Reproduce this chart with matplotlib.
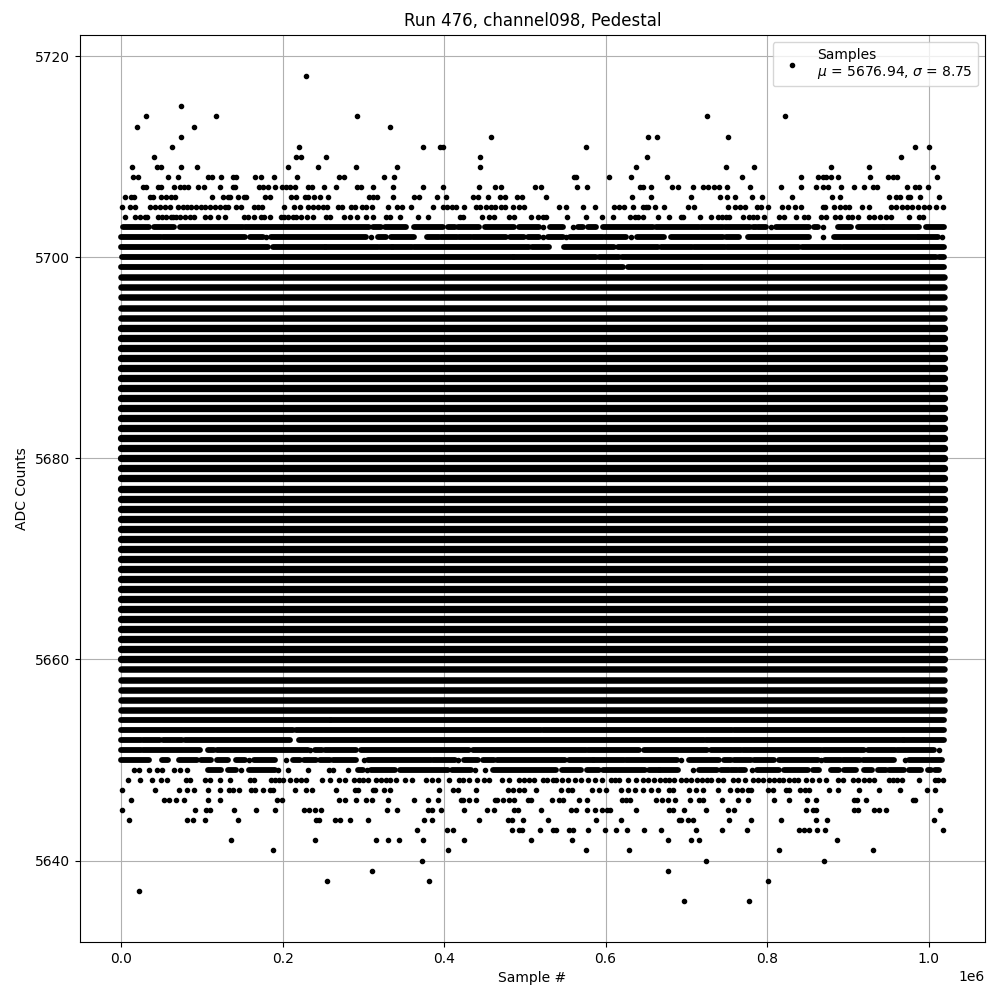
#!/usr/bin/env python3
"""Pedestal samples of one ADC channel, values read off the picture."""
import matplotlib
matplotlib.use("Agg")
import matplotlib.pyplot as plt

# ---------- Sparse levels: sample positions in thousands ----------
x_5718 = [228.5]
x_5715 = [74]
x_5714 = [31, 117.5, 292, 725.3, 821.9]
x_5713 = [19.6, 90, 333]
x_5712 = [74, 457.8, 652.2, 663.4, 751.3]
x_5711 = [63, 220, 373.7, 394.7, 398.4, 575.5, 982.8, 1000.2]
x_5710 = [41, 217, 223, 254, 444.2, 651, 965.5]
x_5709 = [13.4, 44.4, 49.3, 74, 94, 207, 244, 291, 342, 444.2, 637.4, 748.8, 783.5, 878.8, 925.9, 1005.1]
x_5708 = [14.7, 20.9, 58, 70.4, 107.5, 112.5, 123.6, 138.5, 141.8, 165.7, 173, 189, 218, 269.7, 275.9, 325.4,
          337.8, 561.4, 563.5, 603.9, 631.2, 675.7, 768.6, 841.7, 862.7, 868.9, 873, 878.8, 887.5, 927.1, 949.4,
          955.6, 960.5, 1010.1]
x_5707 = [27, 31.2, 45.6, 49.3, 65.4, 72.9, 77.8, 82.8, 95.1, 102.6, 122.4, 138.5, 141, 170.7, 175.6, 181.8, 190.5,
          199.1, 204.5, 208.6, 214.8, 231.3, 236.3, 251.2, 266, 292, 297.4, 311.8, 336.6, 373.7, 398.4, 443, 462.8,
          470.2, 512.3, 519.7, 564.3, 576.7, 642.3, 646, 655.9, 682, 689.4, 708, 721.2, 726.5, 734.8, 741, 750, 778.5,
          816.9, 841.7, 860.3, 868.9, 875.1, 891.2, 907.3, 919.7, 930.8, 935.8, 973, 982.8, 987.8, 998.9]
x_5706 = [4.8, 12.2, 15.9, 35.3, 39.4, 49.3, 55.5, 61.7, 66.7, 112.5, 126.1, 132.3, 135.2, 144.7, 152.1, 155, 178.1,
          184.3, 210.7, 216.9, 227.6, 231.3, 238.8, 246.2, 256.1, 306.9, 311.8, 316.8, 336.6, 362.5, 368.7, 391,
          402.1, 435.6, 441.7, 454.1, 469, 475.2, 490, 496.2, 525.9, 632.4, 655.9, 705.5, 741.4, 750, 760, 781, 793.4,
          830.5, 880, 890, 950.6, 959.3, 964.7, 974.2, 977, 989, 1012.5]
x_5705 = [1.1, 11, 17.1, 35.3, 41.5, 47.7, 53.9, 60.1, 70.4, 76.6, 81.5, 86.9, 93.1, 99.3, 103.4, 110.4, 116.6, 122.8,
          128.2, 132.3, 142.6, 148.8, 164.5, 169.4, 174.4, 201.6, 214, 221.4, 231.3, 237.5, 243.7, 249.9, 255.3,
          268.5, 273.4, 285, 289.9, 298.2, 303.6, 310.6, 330.4, 341.5, 347.7, 358.4, 386, 398.4, 404, 410, 414.9,
          424.8, 439.7, 445, 452, 458, 463, 470, 475, 485, 493.3, 498.7, 542, 550.7, 571.7, 586.6, 610.1, 616.3,
          622.5, 633.7, 646, 650.2, 652.2, 660.9, 672, 701.8, 709.2, 751.3, 760.8, 767, 772.4, 787.2, 792.6, 800.8,
          818.2, 825.6, 834.7, 842.1, 868.9, 872.2, 883.4, 890, 896, 902, 917.2, 925.9, 953.5, 960, 967, 973, 980,
          986.5, 994.8, 1001, 1009, 1017.5]
x_5704 = [4.8, 17.1, 22.9, 29.1, 32, 45.6, 51, 56, 61.7, 64, 67.5, 73.3, 78.6, 84.8, 90.2, 103.4, 109.6, 119.9, 128.2,
          152.1, 157, 164.5, 173.1, 176.9, 184.3, 198.3, 201.6, 206.6, 212.8, 216.9, 223.1, 230.1, 237.5, 254, 259,
          275.9, 283.3, 292, 303.1, 311.8, 327.5, 332.4, 345.2, 367.5, 379.8, 419.5, 423.2, 446.7, 456.2, 462.4,
          480.1, 486.3, 507.4, 516, 522.2, 526.4, 551.9, 575.5, 595.3, 608.9, 630, 636.1, 639.8, 646, 664.6, 678.2,
          693.1, 696.4, 717.5, 730.3, 738.9, 744, 749.4, 753.4, 769.9, 777.3, 783, 788, 796.7, 815.3, 820.6, 835.9,
          845.4, 850.4, 866.9, 873, 884.6, 890.4, 899.9, 905.2, 912.3, 926.7, 933, 940, 947, 953.5, 975.4, 987.8,
          992.7]
x_5648 = [8.5, 23.3, 38.2, 49.3, 56.8, 79.9, 85.7, 103.4, 109.6, 122.4, 134.8, 159.1, 164, 186, 190, 195, 200.4, 209,
          216.9, 223.1, 229.3, 248.7, 258.6, 269.7, 277.2, 288, 294, 300, 306, 316, 321.7, 328.3, 333.6, 340.6, 351.4,
          360, 377.8, 385, 392.3, 405.8, 418.2, 423.2, 430.6, 440.5, 449.2, 455.4, 471.9, 481, 493.3, 499, 505.7,
          511.1, 522.2, 528, 534.6, 538.7, 546, 554, 562, 570, 578, 586.6, 595.3, 606.8, 612, 617, 627.5, 637.8, 646,
          652.2, 660.5, 667, 673, 679, 685.2, 693.5, 699.7, 706, 713, 720, 726, 730.7, 738.9, 745.1, 757.5, 763.7,
          772.3, 782.3, 788.5, 794.6, 802, 809, 815.3, 819.4, 827.7, 833, 838, 848.3, 856, 864, 873, 887.5, 893.7,
          906, 912.3, 920.5, 925.9, 932, 951.5, 956, 960.5, 966.7, 987.8, 1007.6, 1012, 1017.5]
x_5647 = [1.1, 41.9, 71.6, 81.5, 90.2, 107.5, 122, 133.5, 138.5, 145.9, 161.2, 165.3, 175.6, 184.7, 188, 215.2, 229.3,
          236.3, 266, 289.1, 293.2, 311.8, 314.3, 325.4, 332.4, 393.5, 410.8, 417, 439.3, 478.9, 485.1, 492.5, 498.7,
          513.6, 544.5, 553.2, 558.5, 582.9, 592.4, 600.6, 618.8, 627.5, 636.1, 646, 656.4, 664.6, 679, 683.2, 703,
          711.7, 720.4, 738.9, 753.8, 762.4, 768.6, 776, 780.2, 800.8, 807, 823.5, 827.7, 841.3, 846.6, 851.6, 876.4,
          887.5, 913.5, 938.3, 964.3, 997.7, 1007.6]
x_5646 = [12.2, 53, 59.2, 67.9, 77.8, 107.5, 122.4, 193, 199.2, 269.7, 277.2, 290.8, 303.1, 310.6, 330.4, 362.5, 379.8,
          392.2, 420.7, 423.2, 430.6, 439.3, 462.8, 465.3, 472.7, 480, 487.1, 503.7, 507.8, 533.4, 542, 547, 566.8,
          576.7, 620, 625.4, 630.3, 662.1, 669.6, 677, 685.7, 704.3, 716.2, 721.2, 743.9, 763.7, 776, 808.3, 826.8,
          849.1, 860.3, 908, 911, 922.2, 980.4, 983.7]
x_5645 = [1.1, 91.4, 105.5, 109.6, 139.7, 166.9, 190.5, 226.4, 232.6, 239.6, 247.4, 329.1, 341.5, 379.8, 384.8, 395.9,
          424.4, 452.9, 461.6, 486.3, 491.7, 519.7, 556.9, 563.1, 576.7, 586.6, 595.3, 601.5, 605.6, 637.4, 679, 683.2,
          696.8, 724, 751.3, 758.7, 847.9, 856.5, 860.7, 908, 913, 932.9, 939.1, 947.3, 1013.8]
x_5644 = [9.7, 81.5, 89, 103.8, 144.7, 241.7, 245, 264.4, 270.5, 283.3, 305.6, 374.9, 384.8, 443, 478.9, 483.8, 497.5,
          528.4, 587.8, 618.8, 690.6, 693.1, 701.8, 708, 752.5, 779.8, 816.9, 860.3, 873.9, 1006.4]
x_5643 = [366.2, 403.4, 410.8, 483.8, 492.5, 496.2, 518.5, 534.6, 538.7, 555.2, 560.2, 577.9, 599, 612.6, 626.2, 647.3,
          668.3, 711.7, 743.9, 774.8, 839.2, 845.4, 851.6, 861.5, 871.4, 1017.5]
x_5642 = [136, 240, 315.5, 330.4, 343.9, 373.7, 424.4, 507.4, 558.1, 677, 705.5, 715.4, 886.3]
x_5641 = [188, 404.6, 575.5, 628.7, 814.4, 930.8]
x_5640 = [372.4, 724.1, 870.2]
x_5639 = [310.6, 677]
x_5638 = [254.9, 381.1, 800.8]
x_5637 = [22.1]
x_5636 = [696.8, 777.3]

sparse_levels = {
    5718: x_5718, 5715: x_5715, 5714: x_5714, 5713: x_5713, 5712: x_5712, 5711: x_5711, 5710: x_5710,
    5709: x_5709, 5708: x_5708, 5707: x_5707, 5706: x_5706, 5705: x_5705, 5704: x_5704,
    5648: x_5648, 5647: x_5647, 5646: x_5646, 5645: x_5645, 5644: x_5644, 5643: x_5643, 5642: x_5642,
    5641: x_5641, 5640: x_5640, 5639: x_5639, 5638: x_5638, 5637: x_5637, 5636: x_5636,
}

# ---------- Busy levels: runs of samples (start, end) in thousands ----------
runs_5703 = [(2.3, 34.5), (40.3, 65), (72.4, 150.9), (153.8, 306.9), (311.8, 322.1), (326.3, 353), (363.3, 398.4),
             (404.6, 412.9), (417, 443.8), (451.2, 487.1), (493.3, 517.3), (522.2, 522.2), (531.7, 547),
             (559.4, 559.4), (565.6, 572.6), (577.9, 588.3), (597.3, 658.4), (662.5, 715.4), (718.3, 745.1),
             (748, 779), (782.3, 786.4), (789.3, 798.8), (805, 805), (811.1, 852.4), (858.6, 862.7), (868.9, 868.9),
             (887.5, 904), (912.3, 943.2), (945.3, 988.6), (996.9, 1019)]
runs_5702 = [(0.2, 49.8), (51.8, 152.9), (160, 175.6), (179.7, 179.7), (186, 303.5), (309.7, 309.7), (318, 328.3),
             (334.5, 363.3), (378.6, 393.5), (396.3, 415.7), (418.2, 433.5), (436.4, 476.8), (481.8, 499.5),
             (503.7, 518.1), (522.2, 522.2), (528.4, 547), (551.1, 551.1), (556, 596.5), (599.8, 625.4),
             (631.6, 631.6), (638.6, 672.9), (681.1, 745.1), (749.2, 765.7), (776, 852.4), (868.9, 868.9),
             (883.4, 986.5), (988.6, 1011.3), (1016.7, 1016.7)]
runs_5701 = [(0, 181.8), (188, 252), (254, 318), (320, 335.7), (337.3, 360.4), (363.3, 505.7), (509, 530.5),
             (549, 611), (615, 664.6), (668.7, 706.7), (709.2, 748), (750, 840), (843, 891.6), (893.7, 1019)]
runs_5700 = [(1.5, 485), (487, 588), (591.5, 617), (620, 1009), (1012.5, 1019)]
runs_5699 = [(0, 621), (627.5, 718), (720, 1019)]
runs_5654 = [(0, 258.2), (260.2, 1019)]
runs_5653 = [(0, 212.8), (216.9, 520), (522, 756.7), (758.7, 1019)]
runs_5652 = [(0, 25), (27, 47.7), (51.8, 75.7), (78.6, 208.6), (220.2, 722.4), (724.5, 968), (970, 1019)]
runs_5651 = [(0, 25), (27, 97.2), (107.5, 114.5), (118.7, 231.3), (234.2, 234.2), (239.6, 249), (252.8, 291.2),
             (297.4, 431.4), (435.6, 575.9), (578, 641), (647.3, 725.7), (730.7, 767.8), (770.7, 866.9),
             (869.8, 920.5), (924.6, 958.9), (960.5, 1007.2), (1012.5, 1012.5)]
runs_5650 = [(0, 34.5), (50.6, 58), (71.6, 94.3), (99.3, 111.7), (118.7, 132.3), (141.8, 152.9), (158.3, 158.3),
             (164, 190), (204.5, 204.5), (212.8, 221.8), (226, 241.7), (246.6, 258.2), (262.3, 291), (300.3, 300.3),
             (305.6, 384), (386, 412.9), (417, 417), (425.2, 441.7), (447.9, 462.4), (465.3, 550.3), (555.2, 584),
             (586, 623.3), (625.4, 688), (693.5, 693.5), (703.8, 740.2), (747.2, 755.4), (759.6, 780.2),
             (784.3, 809), (814.4, 862.7), (866.4, 866.4), (872.2, 891.6), (894.5, 915), (919.3, 956.8),
             (970.9, 970.9), (976.2, 1000.2), (1003, 1016.7)]
runs_5649 = [(15.9, 15.9), (22.1, 22.1), (34.5, 34.5), (44.4, 44.4), (50.6, 50.6), (65.4, 65.4), (72.9, 72.9),
             (81.5, 81.5), (107.5, 124), (132.3, 141.8), (148.8, 148.8), (158.3, 190.1), (194.2, 194.2),
             (206.6, 206.6), (231.3, 231.3), (257.3, 257.3), (262.3, 262.3), (280.9, 280.9), (293.2, 299.4),
             (304.4, 304.4), (309.8, 339.4), (344.8, 405.4), (410, 433.9), (438.4, 438.4), (450.8, 450.8),
             (461.1, 538.7), (546.2, 569.7), (576.7, 592.4), (597.3, 649.3), (654.3, 665.8), (667.9, 689.4),
             (708, 708), (715.4, 737.7), (743, 752.5), (755.4, 762.4), (765.7, 772.3), (781.4, 781.4), (787.2, 814.4),
             (821.5, 850.4), (856.5, 864), (879.2, 888.7), (895.8, 910.2), (920.5, 930), (937, 947.3), (951.5, 969.2),
             (976.2, 990.7), (998.9, 1003), (1008.4, 1013.4)]

busy_levels = {
    5703: runs_5703, 5702: runs_5702, 5701: runs_5701, 5700: runs_5700, 5699: runs_5699,
    5654: runs_5654, 5653: runs_5653, 5652: runs_5652, 5651: runs_5651, 5650: runs_5650, 5649: runs_5649,
}

# Levels filled over the whole run: the outer ones look a bit thinner than the middle
full_run = (0, 1019)
outer_levels = [5655, 5656, 5657, 5658, 5659, 5694, 5695, 5696, 5697, 5698]
middle_levels = list(range(5660, 5694))

mu = 5676.94
sigma = 8.75

# ---------- Plot ----------
fig, ax = plt.subplots(figsize=(10, 10))

label = f"Samples\n$\\mu$ = {mu:.2f}, $\\sigma$ = {sigma:.2f}"
first = True
for level, xs in sparse_levels.items():
    ax.plot([x * 1000 for x in xs], [level] * len(xs), "k.", label=label if first else None)
    first = False

for level, runs in busy_levels.items():
    for start, end in runs:
        if start == end:
            ax.plot([start * 1000], [level], "k.")
        else:
            ax.plot([start * 1000, end * 1000], [level, level], color="k", lw=4.2, solid_capstyle="round")

for level in outer_levels:
    ax.plot([full_run[0] * 1000, full_run[1] * 1000], [level, level], color="k", lw=4.7, solid_capstyle="round")
for level in middle_levels:
    ax.plot([full_run[0] * 1000, full_run[1] * 1000], [level, level], color="k", lw=5.25, solid_capstyle="round")

ax.set_title("Run 476, channel098, Pedestal", pad=6.5)
ax.set_xlabel("Sample #")
ax.set_ylabel("ADC Counts")
ax.grid(True)
ax.legend(loc="upper right")
fig.subplots_adjust(left=0.080, right=0.985, top=0.965, bottom=0.058)
fig.savefig("out.png", dpi=100)
